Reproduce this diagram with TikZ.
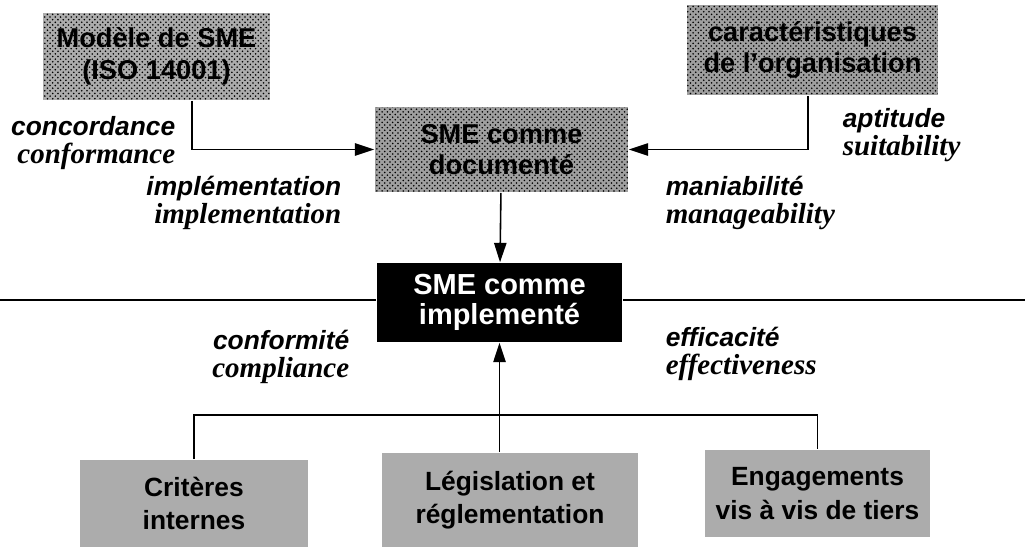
\documentclass[tikz,border=0pt]{standalone}
\usepackage{fontspec}
\setmainfont{Liberation Serif}
\setsansfont{Liberation Sans}
\usetikzlibrary{calc,patterns,arrows.meta}

\begin{document}
\begin{tikzpicture}[x=0.02cm, y=-0.02cm, >={Triangle[length=11pt,width=7pt]}, line width=0.9pt,
    halftone/.style={fill=gray!65, postaction={pattern=crosshatch dots, pattern color=black},
        font=\sffamily\bfseries\fontsize{15.5}{18}\selectfont, align=center, inner sep=0pt},
    grainy/.style={fill=gray!65, font=\sffamily\bfseries\fontsize{15}{19}\selectfont,
        align=center, inner sep=0pt},
    blackbox/.style={fill=black, text=white, font=\sffamily\bfseries\fontsize{16.5}{17}\selectfont,
        align=center, inner sep=0pt},
    lbl/.style={font=\bfseries\itshape\fontsize{15}{15.5}\selectfont, inner sep=0pt}]
    % --- 1. Frame ---
    \useasboundingbox (0,0) rectangle (1025,552);
    \newcommand{\duo}[2]{{\sffamily #1}\\{\rmfamily\fontsize{16.5}{15.5}\selectfont #2}}

    % --- 2. Boxes ---
    \node[halftone, minimum width=4.54cm, minimum height=1.74cm] (modele) at (156.5,56.5) {Modèle de SME\\(ISO 14001)};
    \node[halftone, fill=gray!75, minimum width=5.06cm, minimum height=1.70cm] (doc) at (501.5,149.5) {SME comme\\documenté};
    \node[halftone, fill=gray!75, minimum width=5.02cm, minimum height=1.80cm] (carac) at (812.5,50) {caractéristiques\\de l'organisation};
    \node[blackbox, minimum width=4.90cm, minimum height=1.58cm] (impl) at (499.5,302.5) {SME comme\\implementé};
    \node[grainy, minimum width=4.56cm, minimum height=1.74cm] (crit) at (194,503.5) {Critères\\internes};
    \node[grainy, minimum width=5.12cm, minimum height=1.88cm] (legis) at (510,500) {Législation et\\réglementation};
    \node[grainy, minimum width=4.50cm, minimum height=1.74cm] (engag) at (817.5,493.5) {Engagements\\vis à vis de tiers};

    % --- 3. Labels ---
    \node[lbl, align=right, anchor=east] (concord) at (176,143) {\duo{concordance}{conformance}};
    \node[lbl, align=left, anchor=west] (aptit) at (842,135) {\duo{aptitude}{suitability}};
    \node[lbl, align=right, anchor=east] (implem) at (342,203) {\duo{implémentation}{implementation}};
    \node[lbl, align=left, anchor=west] (mania) at (665,203) {\duo{maniabilité}{manageability}};
    \node[lbl, align=right, anchor=east] (confor) at (350,357) {\duo{conformité}{compliance}};
    \node[lbl, align=left, anchor=west] (effic) at (665,354) {\duo{efficacité}{effectiveness}};

    % --- 4. Connectors ---
    \draw[->] ($(modele.south)+(35.5,0)$) |- (doc.west);
    \draw[->] ($(carac.south)+(-4.5,0)$) |- (doc.east);
    \draw[->] (doc) -- (impl);

    \coordinate (left) at (0,300);
    \coordinate (right) at (1025,300);
    \draw[line width=1.5pt] (left) -- (left -| impl.west);
    \draw[line width=1.5pt] (right -| impl.east) -- (right);

    \coordinate (bus) at (503,415);
    \draw (crit.north) |- (bus) -| (engag.north);
    \draw[->] (impl.south |- legis.north) -- (impl.south);
\end{tikzpicture}
\end{document}
